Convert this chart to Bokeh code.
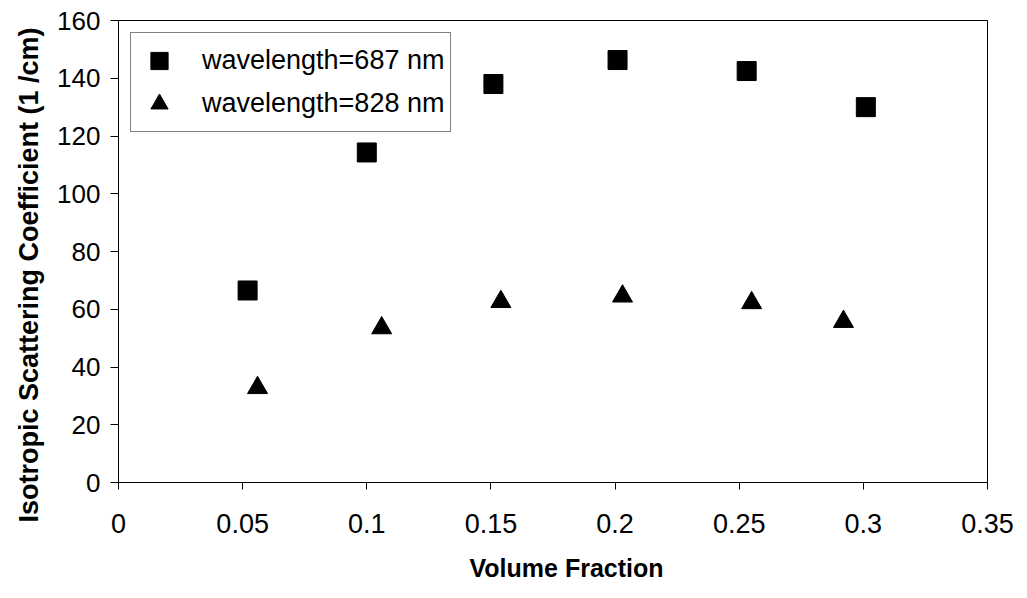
from bokeh.plotting import figure
from bokeh.models import Range1d, FixedTicker, Legend, LegendItem, Title
from bokeh.embed import file_html
from bokeh.resources import INLINE

# ---- data ----
series_names = ["wavelength=687 nm", "wavelength=828 nm"]
frac_687 = [0.052, 0.100, 0.151, 0.201, 0.253, 0.301]
mus_687 = [66.5, 114.3, 138.0, 146.3, 142.5, 130.0]
frac_828 = [0.056, 0.106, 0.154, 0.203, 0.255, 0.292]
mus_828 = [32.8, 53.5, 62.6, 64.5, 62.2, 55.7]

x_ticks = [0, 0.05, 0.1, 0.15, 0.2, 0.25, 0.3, 0.35]
x_tick_labels = ["0", "0.05", "0.1", "0.15", "0.2", "0.25", "0.3", "0.35"]
y_ticks = [0, 20, 40, 60, 80, 100, 120, 140, 160]
x_title = "Volume Fraction"
y_title = "Isotropic Scattering Coefficient (1 /cm)"

FONT = "Liberation Sans"

p = figure(width=1027, height=598, output_backend="svg", toolbar_location=None,
           x_range=Range1d(0, 0.35), y_range=Range1d(0, 160),
           min_border_left=116, min_border_right=40, min_border_top=20, min_border_bottom=116)

p.xgrid.visible = False
p.ygrid.visible = False
p.outline_line_color = "black"
p.outline_line_width = 1
p.background_fill_color = "white"
p.border_fill_color = "white"

for ax in (p.xaxis[0], p.yaxis[0]):
    ax.axis_line_color = "black"
    ax.major_tick_line_color = "black"
    ax.minor_tick_line_color = None
    ax.major_tick_in = 0
    ax.major_tick_out = 7
    ax.major_label_text_font = FONT
    ax.major_label_text_color = "black"

p.xaxis[0].ticker = FixedTicker(ticks=x_ticks)
p.xaxis[0].major_label_overrides = {t: l for t, l in zip(x_ticks, x_tick_labels)}
p.xaxis[0].major_label_text_font_size = "27px"
p.xaxis[0].major_label_standoff = 24

p.yaxis[0].ticker = FixedTicker(ticks=y_ticks)
p.yaxis[0].major_label_text_font_size = "26px"
p.yaxis[0].major_label_standoff = 10
p.yaxis[0].major_tick_out = 8

# axis titles as side titles so they can be offset like in the original
p.add_layout(Title(text=y_title, align="left", offset=-40, standoff=22,
                   text_font=FONT, text_font_size="27px", text_font_style="bold",
                   text_color="black"), "left")
p.add_layout(Title(text=x_title, align="left", offset=351, standoff=32,
                   text_font=FONT, text_font_size="25px", text_font_style="bold",
                   text_color="black"), "below")

r1 = p.scatter(frac_687, mus_687, marker="square", size=19, fill_color="black", line_color="black")
r2 = p.scatter(frac_828, mus_828, marker="triangle", size=20, fill_color="black", line_color="black")

legend = Legend(items=[LegendItem(label=series_names[0], renderers=[r1]),
                       LegendItem(label=series_names[1], renderers=[r2])],
                location="top_left", margin=12, padding=6, spacing=0,
                glyph_width=44, glyph_height=43, label_height=43, label_standoff=21,
                label_text_font=FONT, label_text_font_size="27px", label_text_color="black",
                border_line_color="black", border_line_width=1,
                background_fill_color="white", background_fill_alpha=1.0)
p.add_layout(legend)

open("out.html", "w").write(file_html(p, INLINE))
